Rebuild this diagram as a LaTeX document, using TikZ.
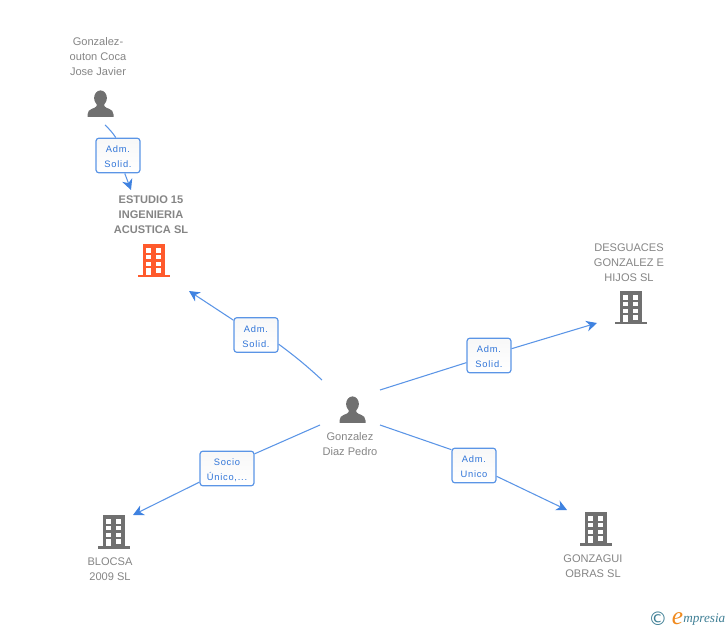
\documentclass[tikz,border=0pt]{standalone}
\usepackage{fontspec}
\setmainfont{Liberation Sans}
\newfontfamily\lblfont[LetterSpace=8]{Liberation Sans}
\newfontfamily\logofont{Liberation Serif}
\newfontfamily\symfont{DejaVu Sans}
\usetikzlibrary{arrows.meta}
\definecolor{linkblue}{HTML}{5B95E6}
\definecolor{tipblue}{HTML}{3F82E0}
\definecolor{lbltext}{HTML}{2F74D8}
\definecolor{icongray}{HTML}{707070}
\definecolor{nametext}{HTML}{858585}
\definecolor{iconorange}{HTML}{FF5A2C}
\definecolor{logoteal}{HTML}{3F7F95}
\definecolor{logoorange}{HTML}{F08A1E}
\newcommand{\rolestrut}{\rule{0pt}{7.5pt}}
\tikzset{
  link/.style={draw=linkblue,line width=0.8pt},
  linkend/.style={link,-{Stealth[length=8pt,width=8pt,inset=2.5pt,color=tipblue]}},
  rolebox/.style={draw=linkblue,line width=0.9pt,rounded corners=2.2pt,top color=white!97!black,
    bottom color=white,minimum width=33pt,minimum height=26pt,inner sep=0pt,align=center,
    font=\lblfont\fontsize{7}{11.25}\selectfont,text=lbltext},
  nametag/.style={align=center,inner sep=0pt,text=nametext,font=\fontsize{8.3}{11.25}\selectfont},
  personicon/.pic={
    \fill[pic actions] (0,0) ellipse (6.4 and 7.6);
    \fill[pic actions] (-3.8,5) -- (-3.8,8) .. controls (-5,11) and (-13,10) .. (-13,16.5) -- (-13,19)
      -- (13,19) -- (13,16.5) .. controls (13,10) and (5,11) .. (3.8,8) -- (3.8,5) -- cycle;
  },
  buildingicon/.pic={
    % body and foot
    \fill[pic actions] (-11,0) rectangle (11,31);
    \fill[pic actions] (-16,31) rectangle (16,33.5);
    % windows
    \foreach \rowy in {4.3,11,17.7} {
      \fill[white] (-7.7,\rowy) rectangle (-2.7,\rowy+4.4);
      \fill[white] (1.7,\rowy) rectangle (6.7,\rowy+4.4);
    }
    \fill[white] (1.7,24.3) rectangle (6.7,28.7);
    \fill[white] (-7.7,24.3) rectangle (-2.7,31);
  }
}
\begin{document}
\begin{tikzpicture}[x=0.75pt,y=-0.75pt]
  \useasboundingbox (0,0) rectangle (728,630);

  % Marking the people
  \pic[fill=icongray] at (100.5,98) {personicon};
  \pic[fill=icongray] at (352.5,404) {personicon};
  \node[nametag] (joseName) at (98,57) {Gonzalez-\\outon Coca\\Jose Javier};
  \node[nametag] (pedroName) at (350,444) {Gonzalez\\Diaz Pedro};

  % Marking the companies
  \pic[fill=iconorange] at (154,244) {buildingicon};
  \pic[fill=icongray] at (631,291) {buildingicon};
  \pic[fill=icongray] at (596,512) {buildingicon};
  \pic[fill=icongray] at (114,515) {buildingicon};
  \node[nametag,font=\fontsize{8.3}{11.25}\selectfont\bfseries] (estudioName) at (151,215) {ESTUDIO 15\\INGENIERIA\\ACUSTICA SL};
  \node[nametag] (desguacesName) at (629,263) {DESGUACES\\GONZALEZ E\\HIJOS SL};
  \node[nametag] (gonzaguiName) at (593,566.5) {GONZAGUI\\OBRAS SL};
  \node[nametag] (blocsaName) at (110,569.5) {BLOCSA\\2009 SL};

  % Free ends of the connectors
  \coordinate (joseOut) at (105,125);
  \coordinate (estudioIn) at (131,190);
  \coordinate (pedroNW) at (322,380);
  \coordinate (estudioSE) at (189,291);
  \coordinate (pedroSW) at (320,425);
  \coordinate (blocsaIn) at (133,515);
  \coordinate (pedroNE) at (380,390);
  \coordinate (desguacesIn) at (597,323);
  \coordinate (pedroSE) at (380,425);
  \coordinate (gonzaguiIn) at (567,510);

  % Role boxes
  \node[rolebox] (roleJose) at (118,155.5) {\rolestrut Adm.\\Solid.};
  \node[rolebox] (roleEstudio) at (256,335) {\rolestrut Adm.\\Solid.};
  \node[rolebox,minimum width=40.5pt] (roleBlocsa) at (227,468.5) {\rolestrut Socio\\Único,...};
  \node[rolebox] (roleDesguaces) at (489,355.5) {\rolestrut Adm.\\Solid.};
  \node[rolebox] (roleGonzagui) at (474,465.5) {\rolestrut Adm.\\Unico};

  % Drawing the connectors
  \draw[link] (joseOut) to[bend left=6] (roleJose.97);
  \draw[linkend] (roleJose) to (estudioIn);
  \draw[link] (pedroNW) to[bend right=3] (roleEstudio.-22);
  \draw[linkend] (roleEstudio) to (estudioSE);
  \draw[link] (pedroSW) to (roleBlocsa.28);
  \draw[linkend] (roleBlocsa) to (blocsaIn);
  \draw[link] (pedroNE) to (roleDesguaces);
  \draw[linkend] (roleDesguaces) to (desguacesIn);
  \draw[link] (pedroSE) to (roleGonzagui.145);
  \draw[linkend] (roleGonzagui) to (gonzaguiIn);

  % Logo
  \node[inner sep=0pt,text=logoteal,font=\symfont\fontsize{14}{15}\selectfont] (logoMark) at (658,619) {©};
  \node[inner sep=0pt,text=logoorange,font=\logofont\itshape\fontsize{19}{19}\selectfont] (logoE) at (677.5,619) {e};
  \node[inner sep=0pt,anchor=west,text=logoteal,font=\logofont\itshape\fontsize{9.9}{10}\selectfont] (logoText) at (683,620) {mpresia};
\end{tikzpicture}
\end{document}
